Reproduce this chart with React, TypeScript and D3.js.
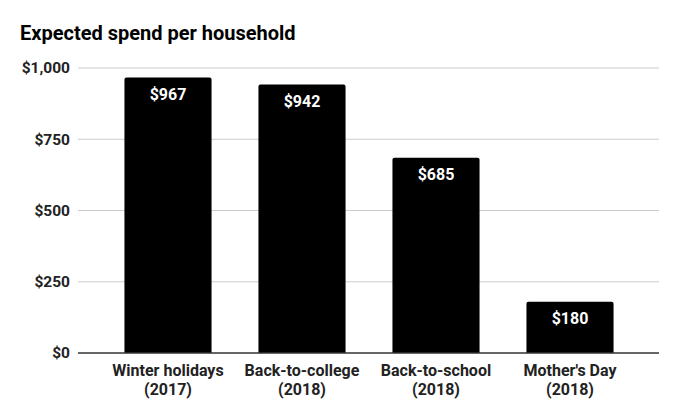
import React from "react";
import * as d3 from "d3";

const categories = ["Winter holidays|(2017)", "Back-to-college|(2018)", "Back-to-school|(2018)", "Mother's Day|(2018)"];
const values = [967, 942, 685, 180];
const yTicks = [0, 250, 500, 750, 1000];

const W = 679;
const H = 420;

export default function App() {
  const x = d3.scaleBand<string>().domain(categories).range([101, 637]).paddingInner(0.35).paddingOuter(0.175);
  const y = d3.scaleLinear().domain([0, 1000]).range([353, 68]);
  const fmtTick = (v: number) => "$" + d3.format(",")(v);
  const font = "Roboto, 'Noto Sans', sans-serif";

  const barPath = (x0: number, y0: number, w: number, h: number, r: number) => {
    const p = d3.path();
    p.moveTo(x0, y0 + h);
    p.lineTo(x0, y0 + r);
    p.quadraticCurveTo(x0, y0, x0 + r, y0);
    p.lineTo(x0 + w - r, y0);
    p.quadraticCurveTo(x0 + w, y0, x0 + w, y0 + r);
    p.lineTo(x0 + w, y0 + h);
    p.closePath();
    return p.toString();
  };

  return (
    <svg width={W} height={H} style={{ position: "absolute", left: 0, top: 0, background: "#fff" }} fontFamily={font}>
      <text x={20} y={40} fontSize={20} fontWeight={700} fill="#000">Expected spend per household</text>
      {yTicks.map((t) => (
        <g key={t}>
          {t !== 0 && <line x1={78} x2={659} y1={y(t)} y2={y(t)} stroke="#cccccc" strokeWidth={1} />}
          <text x={70} y={y(t)} dy="0.35em" textAnchor="end" fontSize={15.5} fontWeight={700} fill="#222">{fmtTick(t)}</text>
        </g>
      ))}
      {categories.map((c, i) => {
        const bx = x(c)!;
        const bw = x.bandwidth();
        const by = y(values[i]);
        const bh = y(0) - by;
        const cx = bx + bw / 2;
        const [l1, l2] = c.split("|");
        return (
          <g key={c}>
            <path d={barPath(bx, by, bw, bh, 2)} fill="#000" />
            <text x={cx} y={by + 22.5} textAnchor="middle" fontSize={16} fontWeight={700} fill="#fff">{"$" + values[i]}</text>
            <text x={cx} y={376} textAnchor="middle" fontSize={16} fontWeight={700} fill="#222">{l1}</text>
            <text x={cx} y={395} textAnchor="middle" fontSize={16} fontWeight={700} fill="#222">{l2}</text>
          </g>
        );
      })}
      <line x1={78} x2={659} y1={y(0)} y2={y(0)} stroke="#333" strokeWidth={1.3} />
    </svg>
  );
}
